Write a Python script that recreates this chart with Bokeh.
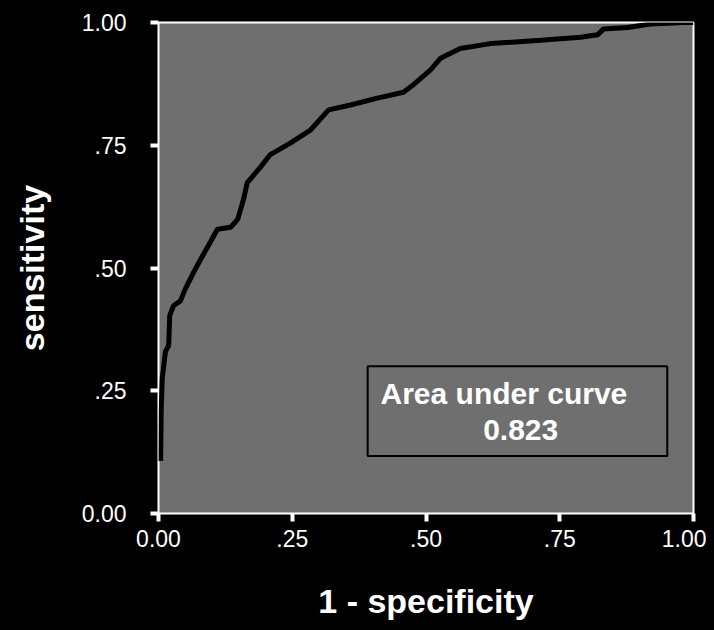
from bokeh.plotting import figure
from bokeh.models import Range1d, Label, BoxAnnotation, FixedTicker
from bokeh.embed import file_html
from bokeh.resources import INLINE

# ROC curve points (1 - specificity, sensitivity)
fpr = [0.004, 0.005, 0.007, 0.013, 0.019, 0.021, 0.028, 0.041, 0.050,
       0.066, 0.082, 0.097, 0.110, 0.135, 0.148, 0.159, 0.166, 0.191, 0.209,
       0.247, 0.284, 0.318, 0.359, 0.409, 0.458, 0.475, 0.508, 0.527, 0.564,
       0.620, 0.714, 0.789, 0.821, 0.832, 0.877, 0.920, 0.963, 0.980, 1.0]
tpr = [0.107, 0.208, 0.275, 0.330, 0.342, 0.403, 0.423, 0.433, 0.457,
       0.492, 0.524, 0.553, 0.579, 0.583, 0.599, 0.640, 0.674, 0.706, 0.731,
       0.755, 0.781, 0.822, 0.832, 0.846, 0.858, 0.872, 0.903, 0.927, 0.947,
       0.957, 0.964, 0.970, 0.975, 0.987, 0.990, 0.997, 0.999, 1.0, 1.0]

tick_values = [0.0, 0.25, 0.5, 0.75, 1.0]
tick_labels = ["0.00", ".25", ".50", ".75", "1.00"]
auc_title = "Area under curve"
auc_value = "0.823"

BG = "#000000"
PLOT_BG = "#6f6f6f"
FONT = "Liberation Sans"

p = figure(width=698, height=614, output_backend="svg", toolbar_location=None,
           x_range=Range1d(0, 1), y_range=Range1d(0, 1),
           min_border_left=150, min_border_right=13, min_border_top=14,
           min_border_bottom=106)
p.background_fill_color = PLOT_BG
p.border_fill_color = BG
p.outline_line_color = "white"
p.outline_line_width = 2
p.grid.visible = False

ticks = {v: l for v, l in zip(tick_values, tick_labels)}
for ax in (p.xaxis[0], p.yaxis[0]):
    ax.ticker = FixedTicker(ticks=tick_values)
    ax.major_label_overrides = ticks
    ax.axis_line_color = None
    ax.major_tick_line_color = "white"
    ax.major_tick_line_width = 4
    ax.major_tick_out = 8
    ax.major_tick_in = 0
    ax.minor_tick_line_color = None
    ax.major_label_text_color = "white"
    ax.major_label_text_font = FONT
    ax.major_label_text_font_size = "23px"
    ax.axis_label_text_color = "white"
    ax.axis_label_text_font = FONT
    ax.axis_label_text_font_style = "bold"
    ax.axis_label_text_font_size = "34px"

p.xaxis.axis_label = "1 - specificity"
p.yaxis.axis_label = "sensitivity"
p.yaxis.major_label_standoff = 24
p.yaxis.axis_label_standoff = 28
p.xaxis.major_label_standoff = 8
p.xaxis.axis_label_standoff = 32

p.line(fpr, tpr, line_color="black", line_width=5)

p.add_layout(BoxAnnotation(left=0.391, right=0.951, bottom=0.117, top=0.30,
                           fill_color=PLOT_BG, fill_alpha=1.0,
                           line_color="black", line_alpha=1.0, line_width=2))
p.add_layout(Label(x=0.415, y=0.245, text=auc_title, text_color="white",
                   text_font=FONT, text_font_style="bold", text_font_size="30px",
                   text_baseline="middle", text_align="left"))
p.add_layout(Label(x=0.677, y=0.17, text=auc_value, text_color="white",
                   text_font=FONT, text_font_style="bold", text_font_size="30px",
                   text_baseline="middle", text_align="center"))

html = file_html(p, INLINE).replace("<body>", '<body style="margin:8px;background:#000000;">')
open("out.html", "w").write(html)
